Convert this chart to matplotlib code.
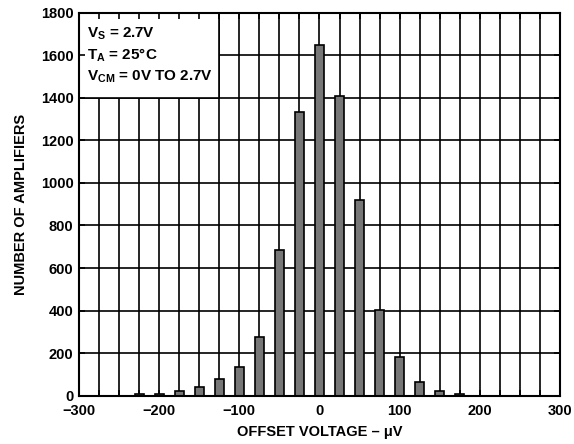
import numpy as np
import matplotlib
matplotlib.use("Agg")
import matplotlib.pyplot as plt
from matplotlib.patches import Rectangle
from matplotlib.ticker import MultipleLocator

plt.rcParams["font.family"] = ["Liberation Sans", "DejaVu Sans"]
plt.rcParams["font.weight"] = "bold"
plt.rcParams["mathtext.fontset"] = "custom"
plt.rcParams["mathtext.rm"] = "Liberation Sans:bold"
plt.rcParams["mathtext.it"] = "Liberation Sans:bold"
plt.rcParams["mathtext.bf"] = "Liberation Sans:bold"

# histogram data: offset voltage bins (uV) and counts
offset_uv = [-225, -200, -175, -150, -125, -100, -75, -50, -25, 0,
             25, 50, 75, 100, 125, 150, 175]
counts = [10, 10, 20, 40, 80, 135, 275, 685, 1335, 1650,
          1410, 920, 405, 180, 65, 20, 10]

x_ticks = [-300, -200, -100, 0, 100, 200, 300]
y_ticks = [0, 200, 400, 600, 800, 1000, 1200, 1400, 1600, 1800]

conditions = [r"V$_\mathregular{S}$ = 2.7V",
              r"T$_\mathregular{A}$ = 25°C",
              r"V$_\mathregular{CM}$ = 0V TO 2.7V"]

fig = plt.figure(figsize=(5.74, 4.44), dpi=100)
ax = fig.add_axes([0.1376, 0.1088, 0.8380, 0.8626])

ax.set_xlim(-300, 300)
ax.set_ylim(0, 1800)

# grid
for gx in np.arange(-300, 301, 25):
    ax.axvline(gx, color="black", lw=1.2, zorder=1)
for gy in y_ticks:
    ax.axhline(gy, color="black", lw=1.2, zorder=1)

# white box for the conditions text
ax.add_patch(Rectangle((-300, 1400), 175, 400, facecolor="white",
                       edgecolor="black", lw=1.2, zorder=1.5))

ax.bar(offset_uv, counts, width=11, color="#777777", edgecolor="black",
       linewidth=1.2, zorder=2.6)

for i, txt in enumerate(conditions):
    ax.text(-290, 1700 - i * 100, txt, fontsize=11, fontweight="bold",
            va="center", ha="left", zorder=3)

ax.set_axisbelow(False)
ax.set_xticks(x_ticks)
ax.xaxis.set_minor_locator(MultipleLocator(25))
ax.set_yticks(y_ticks)
ax.tick_params(which="both", direction="in", length=4, width=1.2,
               top=True, right=True, labelsize=10.5)
ax.tick_params(axis="x", pad=6)
ax.tick_params(axis="y", pad=4)
for lab in ax.get_xticklabels() + ax.get_yticklabels():
    lab.set_fontweight("bold")

for s in ax.spines.values():
    s.set_linewidth(1.5)
    s.set_zorder(3)

ax.set_xlabel("OFFSET VOLTAGE – μV", fontsize=10.5, fontweight="bold", labelpad=5)
ax.set_ylabel("NUMBER OF AMPLIFIERS", fontsize=10.5, fontweight="bold", labelpad=9)

plt.savefig("out.png", dpi=100)
